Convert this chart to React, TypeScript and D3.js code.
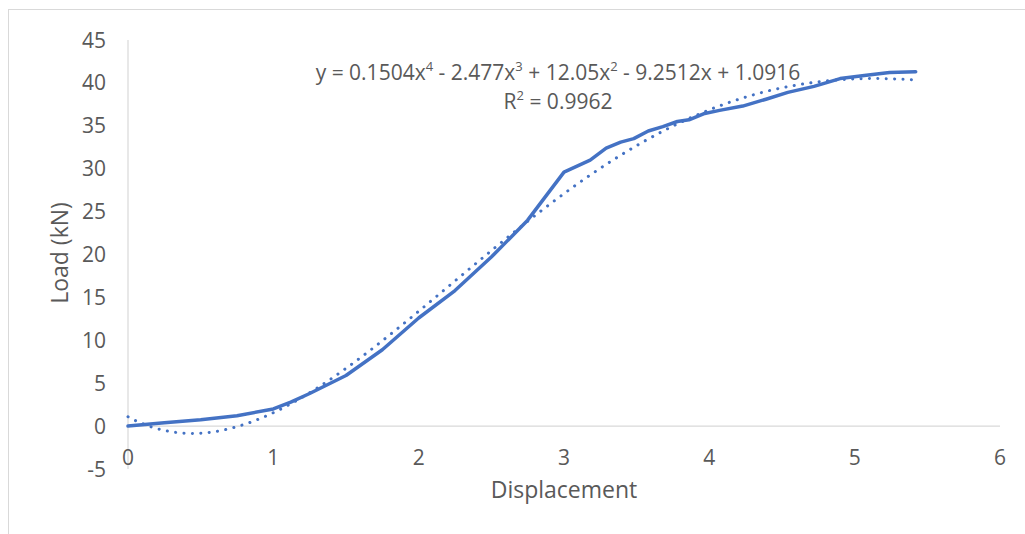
import React, { useEffect, useRef } from "react";
import * as d3 from "d3";

// measured curve
const displacement = [
  0, 0.25, 0.5, 0.75, 1.0, 1.12, 1.25, 1.5, 1.75, 2.0, 2.25, 2.5, 2.75, 3.0,
  3.18, 3.29, 3.39, 3.48, 3.58, 3.68, 3.78, 3.86, 3.96, 4.07, 4.23, 4.39, 4.54,
  4.72, 4.9, 5.08, 5.24, 5.42,
];
const load = [
  0, 0.4, 0.75, 1.2, 2.0, 2.8, 3.8, 5.9, 8.9, 12.6, 15.8, 19.7, 24.0, 29.6,
  31.0, 32.4, 33.1, 33.5, 34.4, 34.9, 35.5, 35.7, 36.4, 36.8, 37.3, 38.1, 38.9,
  39.6, 40.5, 40.9, 41.2, 41.3,
];

// trendline coefficients, highest power first (x^4 .. x^0)
const trendCoefs = [0.1504, -2.477, 12.05, -9.2512, 1.0916];
const rSquared = "0.9962";

const xTicks = [0, 1, 2, 3, 4, 5, 6];
const yTicks = [-5, 0, 5, 10, 15, 20, 25, 30, 35, 40, 45];

const W = 1025;
const H = 534;
const FONT = "'Open Sans', sans-serif";
const BLUE = "#4472C4";
const GRID = "#d9d9d9";
const TEXT = "#595959";

const App = () => {
  const ref = useRef<SVGSVGElement>(null);

  useEffect(() => {
    const svg = d3.select(ref.current);
    svg.selectAll("*").remove();

    const x = d3.scaleLinear().domain([0, 6]).range([128, 1000]);
    const y = d3.scaleLinear().domain([-5, 45]).range([469, 40]);

    // chart border
    svg
      .append("rect")
      .attr("x", 8.5)
      .attr("y", 9.5)
      .attr("width", 1040)
      .attr("height", 560)
      .attr("fill", "#fff")
      .attr("stroke", GRID);

    // axes lines
    svg
      .append("line")
      .attr("x1", x(0))
      .attr("x2", x(0))
      .attr("y1", y(45))
      .attr("y2", y(-5))
      .attr("stroke", GRID)
      .attr("stroke-width", 1.2);
    svg
      .append("line")
      .attr("x1", x(0))
      .attr("x2", x(6))
      .attr("y1", y(0))
      .attr("y2", y(0))
      .attr("stroke", GRID)
      .attr("stroke-width", 1.2);

    // tick labels
    svg
      .append("g")
      .selectAll("text")
      .data(yTicks)
      .join("text")
      .attr("x", 106)
      .attr("y", d => y(d))
      .attr("dy", "0.36em")
      .attr("text-anchor", "end")
      .attr("font-family", FONT)
      .attr("font-size", 21)
      .attr("fill", TEXT)
      .text(d => d);

    svg
      .append("g")
      .selectAll("text")
      .data(xTicks)
      .join("text")
      .attr("x", d => x(d))
      .attr("y", 457)
      .attr("dy", "0.36em")
      .attr("text-anchor", "middle")
      .attr("font-family", FONT)
      .attr("font-size", 21)
      .attr("fill", TEXT)
      .text(d => d);

    // axis titles
    svg
      .append("text")
      .attr("x", 564)
      .attr("y", 498)
      .attr("text-anchor", "middle")
      .attr("font-family", FONT)
      .attr("font-size", 23)
      .attr("fill", TEXT)
      .text("Displacement");

    svg
      .append("text")
      .attr("transform", "translate(68,253) rotate(-90)")
      .attr("text-anchor", "middle")
      .attr("font-family", FONT)
      .attr("font-size", 23)
      .attr("fill", TEXT)
      .text("Load (kN)");

    // trendline
    const poly = (v: number) =>
      trendCoefs.reduce((acc, c) => acc * v + c, 0);
    const xMax = d3.max(displacement) as number;
    const trendX = d3.range(0, xMax, 0.02).concat([xMax]);

    const line = d3
      .line<[number, number]>()
      .x(d => x(d[0]))
      .y(d => y(d[1]));

    svg
      .append("path")
      .datum(trendX.map(v => [v, poly(v)] as [number, number]))
      .attr("d", line)
      .attr("fill", "none")
      .attr("stroke", BLUE)
      .attr("stroke-width", 3)
      .attr("stroke-linecap", "round")
      .attr("stroke-dasharray", "0.1 8.3");

    // measured data
    svg
      .append("path")
      .datum(displacement.map((v, i) => [v, load[i]] as [number, number]))
      .attr("d", line)
      .attr("fill", "none")
      .attr("stroke", BLUE)
      .attr("stroke-width", 3.5)
      .attr("stroke-linejoin", "round")
      .attr("stroke-linecap", "round");

    // equation label
    const eq = svg
      .append("text")
      .attr("x", 558)
      .attr("y", 80)
      .attr("text-anchor", "middle")
      .attr("font-family", FONT)
      .attr("font-size", 21)
      .attr("fill", TEXT);

    const parts: [string, string][] = [
      ["y = 0.1504x", "4"],
      [" - 2.477x", "3"],
      [" + 12.05x", "2"],
      [" - 9.2512x + 1.0916", ""],
    ];
    let shift = 0;
    parts.forEach(([base, sup]) => {
      eq.append("tspan").attr("dy", shift).text(base);
      shift = 0;
      if (sup) {
        eq.append("tspan").attr("font-size", 13).attr("dy", -9).text(sup);
        shift = 9;
      }
    });

    const r2 = svg
      .append("text")
      .attr("x", 558)
      .attr("y", 109)
      .attr("text-anchor", "middle")
      .attr("font-family", FONT)
      .attr("font-size", 21)
      .attr("fill", TEXT);
    r2.append("tspan").text("R");
    r2.append("tspan").attr("font-size", 13).attr("dy", -9).text("2");
    r2.append("tspan").attr("dy", 9).text(" = " + rSquared);
  }, []);

  return (
    <div style={{ position: "absolute", left: 0, top: 0 }}>
      <svg ref={ref} width={W} height={H} style={{ display: "block" }}></svg>
    </div>
  );
};

export default App;
